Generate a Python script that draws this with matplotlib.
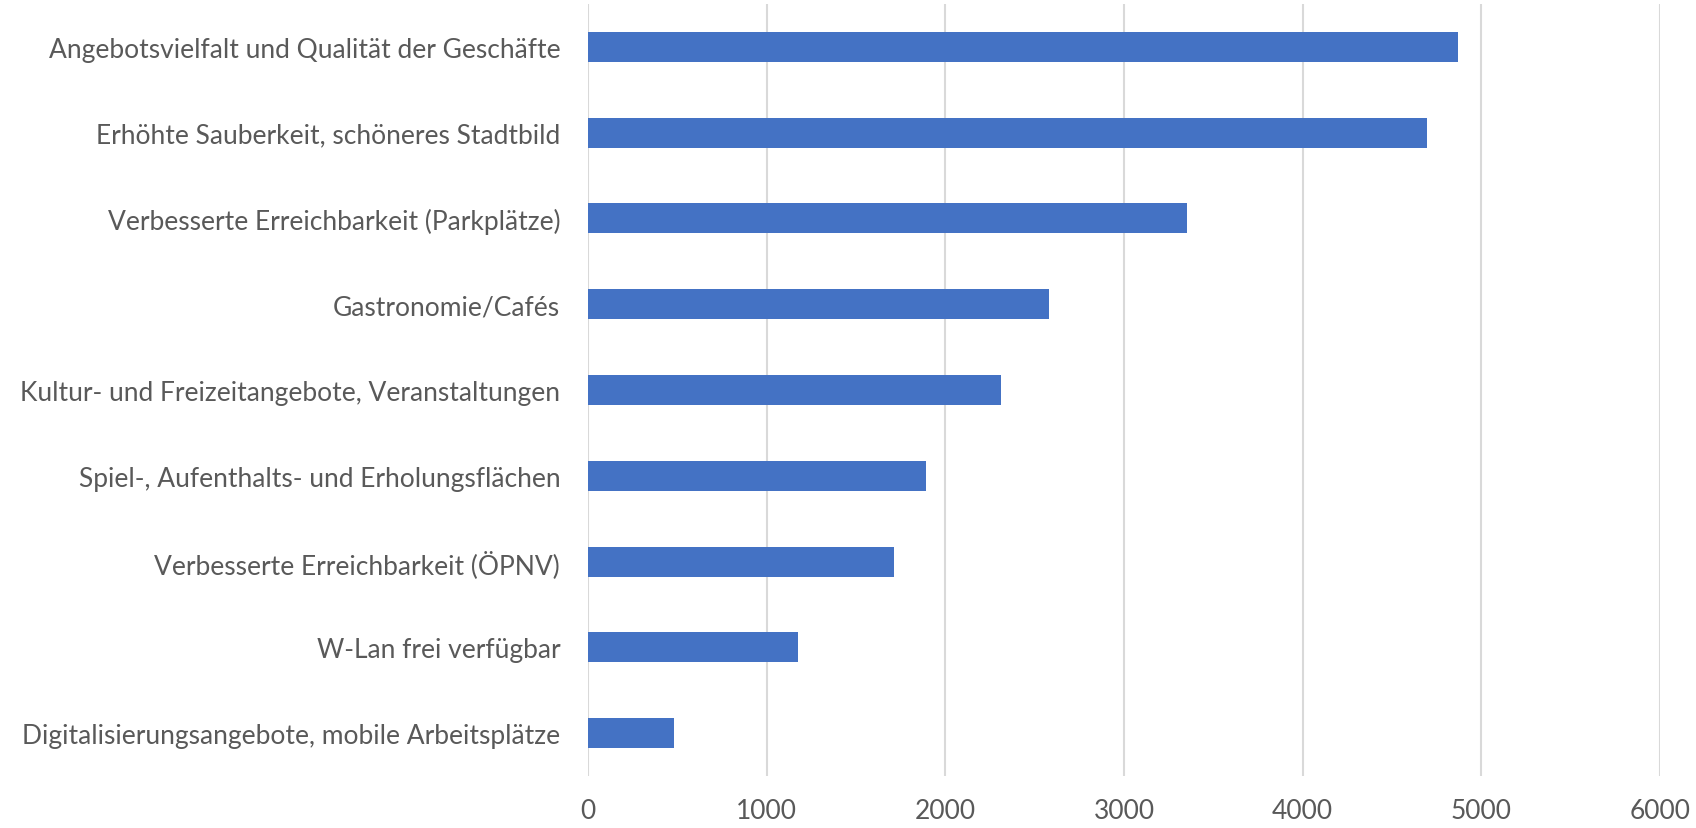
import matplotlib
matplotlib.use('Agg')
import matplotlib.pyplot as plt

# data (top to bottom)
categories = [
    'Angebotsvielfalt und Qualität der Geschäfte',
    'Erhöhte Sauberkeit, schöneres Stadtbild',
    'Verbesserte Erreichbarkeit (Parkplätze)',
    'Gastronomie/Cafés',
    'Kultur- und Freizeitangebote, Veranstaltungen',
    'Spiel-, Aufenthalts- und Erholungsflächen',
    'Verbesserte Erreichbarkeit (ÖPNV)',
    'W-Lan frei verfügbar',
    'Digitalisierungsangebote, mobile Arbeitsplätze',
]
values = [4870, 4695, 3355, 2582, 2313, 1891, 1711, 1174, 482]
x_ticks = [0, 1000, 2000, 3000, 4000, 5000, 6000]

plt.rcParams['font.family'] = ['Lato', 'DejaVu Sans']

fig = plt.figure(figsize=(16.96, 8.29), dpi=100)
ax = fig.add_axes([0.3467, 0.0627, 0.6321, 0.9313])

y = list(range(len(categories)))
ax.barh(y, values, height=0.35, color='#4472C4', zorder=3)

ax.set_ylim(len(categories) - 0.5, -0.5)
ax.set_xlim(0, 6000)
ax.set_xticks(x_ticks)
ax.set_yticks(y)
ax.set_yticklabels(categories)
ax.grid(axis='x', color='#D9D9D9', linewidth=1.5, zorder=0)

for s in ax.spines.values():
    s.set_visible(False)
ax.tick_params(axis='both', length=0, labelsize=19, labelcolor='#595959')
ax.tick_params(axis='y', pad=20)
ax.tick_params(axis='x', pad=16)

fig.savefig('out.png', dpi=100)
